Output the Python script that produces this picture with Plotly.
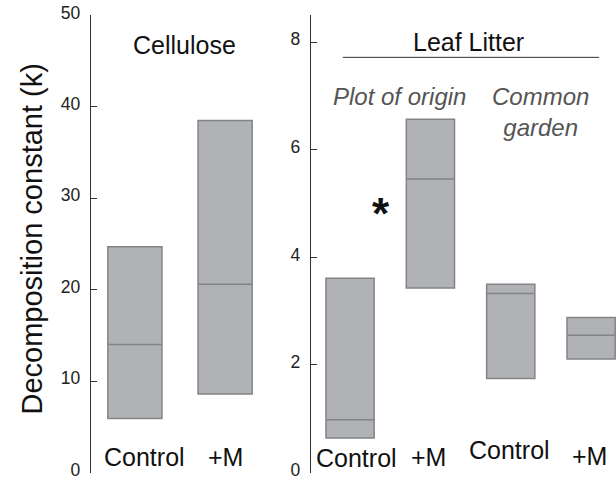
import plotly.graph_objects as go

# ---- data ----
cell_groups = ["Control", "+M"]
cell_low = [5.9, 8.6]
cell_med = [14.0, 20.6]
cell_high = [24.7, 38.5]

leaf_groups = ["Control", "+M", "Control", "+M"]
leaf_low = [0.64, 3.43, 1.75, 2.11]
leaf_med = [0.98, 5.46, 3.33, 2.55]
leaf_high = [3.61, 6.57, 3.50, 2.88]

left_ticks = [0, 10, 20, 30, 40, 50]
right_ticks = [0, 2, 4, 6, 8]

FILL = "#b1b2b6"
EDGE = "#838488"
FONT = "Liberation Sans, Arial, sans-serif"

fig = go.Figure()

def add_boxes(lows, meds, highs, xa, ya):
    xs = list(range(1, len(lows) + 1))
    fig.add_trace(go.Box(
        x=xs, q1=lows, median=meds, q3=highs,
        lowerfence=lows, upperfence=highs,
        width=0.6, whiskerwidth=0, boxpoints=False,
        fillcolor=FILL, line=dict(color=EDGE, width=1.5),
        xaxis=xa, yaxis=ya, showlegend=False, hoverinfo="skip"))

add_boxes(cell_low, cell_med, cell_high, "x", "y")
add_boxes(leaf_low, leaf_med, leaf_high, "x2", "y2")

ydom = [6.5 / 479, 463.6 / 479]
axis_common = dict(showline=True, linecolor="#333", linewidth=1,
                   ticks="inside", ticklen=6, tickcolor="#333", tickwidth=1,
                   showgrid=False, zeroline=False, automargin=False,
                   tickfont=dict(family=FONT, size=17.5, color="#222"),
                   ticklabelstandoff=6, ticklabeloverflow="allow",
                   ticklabelshift=-3)

fig.update_layout(
    width=616, height=479, margin=dict(l=0, r=0, t=0, b=0, autoexpand=False),
    plot_bgcolor="white", paper_bgcolor="white",
    xaxis=dict(domain=[90.7 / 616, 300 / 616], range=[0.51, 2.83],
               visible=False, anchor="y", automargin=False),
    yaxis=dict(domain=ydom, range=[0, 50], tickvals=left_ticks,
               anchor="x", **axis_common),
    xaxis2=dict(domain=[310.7 / 616, 1.0], range=[0.51, 4.31],
                visible=False, anchor="y2", automargin=False),
    yaxis2=dict(domain=ydom, range=[0, 8.5], tickvals=right_ticks,
                anchor="x2", **axis_common),
)

ann = []
# category labels
left_shift = [10, 0]
for i, g in enumerate(cell_groups):
    ann.append(dict(x=i + 1, y=1.75, xref="x", yref="y", text=g,
                    showarrow=False, xshift=left_shift[i],
                    font=dict(family=FONT, size=25, color="#111")))
right_shift = [6, -2, -1, -2]
right_y = [0.27, 0.28, 0.42, 0.30]
for i, g in enumerate(leaf_groups):
    ann.append(dict(x=i + 1, y=right_y[i], xref="x2", yref="y2", text=g,
                    showarrow=False, xshift=right_shift[i],
                    font=dict(family=FONT, size=25, color="#111")))

ann += [
    dict(x=1.55, y=46.8, xref="x", yref="y", text="Cellulose", showarrow=False,
         font=dict(family=FONT, size=25, color="#111")),
    dict(x=2.47, y=8.01, xref="x2", yref="y2", text="Leaf Litter", showarrow=False,
         font=dict(family=FONT, size=25, color="#111")),
    dict(x=1.61, y=6.99, xref="x2", yref="y2", text="<i>Plot of origin</i>",
         showarrow=False, font=dict(family=FONT, size=24, color="#555")),
    dict(x=3.37, y=6.71, xref="x2", yref="y2", text="<i>Common<br>garden</i>",
         showarrow=False, font=dict(family=FONT, size=24, color="#555")),
    dict(x=1.39, y=4.82, xref="x2", yref="y2", text="<b>*</b>", showarrow=False,
         font=dict(family=FONT, size=44, color="#111")),
    dict(x=31.5 / 616, y=1 - 239 / 479, xref="paper", yref="paper",
         xanchor="center", yanchor="middle",
         text="Decomposition constant (k)", textangle=-90, showarrow=False,
         font=dict(family=FONT, size=29, color="#111")),
]
fig.update_layout(annotations=ann)

fig.add_shape(type="line", xref="x2", yref="y2", x0=0.91, x1=4.10, y0=7.72, y1=7.72,
              line=dict(color="#333", width=1))

fig.write_html("out.html", config={"displayModeBar": False},
               post_script="document.body.style.margin='0';document.body.style.overflow='hidden';")
